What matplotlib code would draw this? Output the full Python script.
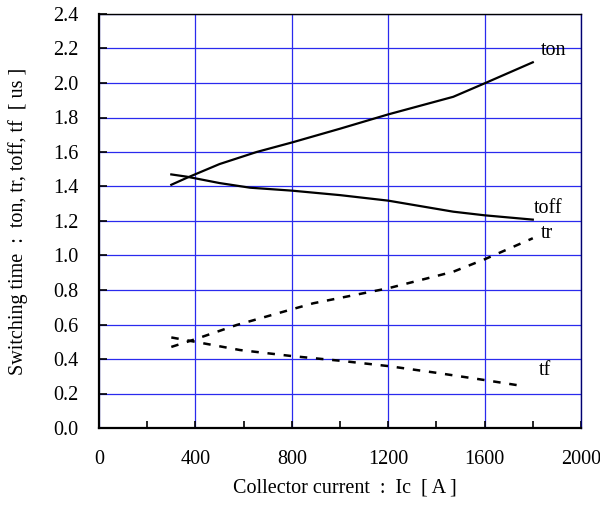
import numpy as np
import matplotlib
matplotlib.use("Agg")
import matplotlib.pyplot as plt
from matplotlib.ticker import MultipleLocator

plt.rcParams['font.family'] = ['Liberation Serif', 'DejaVu Serif']

# Switching time vs collector current
ton_x = [300, 364, 500, 654, 800, 1000, 1200, 1470, 1600, 1800]
ton_y = [1.41, 1.45, 1.53, 1.60, 1.655, 1.735, 1.818, 1.92, 1.998, 2.12]

toff_x = [300, 364, 500, 627, 800, 1000, 1200, 1470, 1600, 1800]
toff_y = [1.47, 1.457, 1.42, 1.393, 1.376, 1.35, 1.318, 1.254, 1.233, 1.208]

tr_x = [300, 398, 571, 800, 889, 1200, 1470, 1600, 1800]
tr_y = [0.47, 0.514, 0.597, 0.688, 0.723, 0.81, 0.906, 0.978, 1.10]

tf_x = [300, 398, 585, 800, 1000, 1200, 1400, 1600, 1760]
tf_y = [0.525, 0.50, 0.452, 0.417, 0.39, 0.359, 0.32, 0.278, 0.243]

labels = ['ton', 'toff', 'tr', 'tf']
label_pos = [(1834, 2.19), (1805, 1.27), (1834, 1.125), (1826, 0.336)]

fs = 14.5

fig = plt.figure(figsize=(6.0, 5.05), dpi=100)
ax = fig.add_axes([99 / 600, 1 - 428 / 505, 482 / 600, 414 / 505])

ax.set_xlim(0, 2000)
ax.set_ylim(0, 2.4)
ax.xaxis.set_major_locator(MultipleLocator(400))
ax.xaxis.set_minor_locator(MultipleLocator(200))
ax.yaxis.set_major_locator(MultipleLocator(0.2))
ax.yaxis.set_major_formatter(plt.FuncFormatter(lambda v, p: f'{v:.1f}'))

ax.set_axisbelow(True)
ax.grid(which='major', color='#2a2aee', lw=0.9)

ax.plot(ton_x, ton_y, color='black', lw=1.6, zorder=3)
ax.plot(toff_x, toff_y, color='black', lw=1.6, zorder=3)
ax.plot(tr_x, tr_y, color='black', lw=1.8, dashes=(3, 3.5), zorder=3)
ax.plot(tf_x, tf_y, color='black', lw=1.8, dashes=(3, 3.5), zorder=3)

for lab, (lx, ly) in zip(labels, label_pos):
    ax.text(lx, ly, lab, fontsize=fs, ha='left', va='center')

ax.tick_params(axis='both', which='both', direction='in', labelsize=fs,
               color='black', width=1.2)
ax.tick_params(axis='x', which='major', length=5, pad=16)
ax.tick_params(axis='x', which='minor', length=5)
ax.tick_params(axis='y', which='major', length=6, pad=15)

for side in ['left', 'bottom']:
    ax.spines[side].set_linewidth(1.6)
ax.spines['top'].set_linewidth(1.0)
ax.spines['right'].set_linewidth(1.0)
ax.spines['right'].set_color('#000070')

ax.set_xlabel('Collector current  :  Ic  [ A ]', fontsize=fs)
ax.set_ylabel('Switching time  :  ton, tr, toff, tf  [ us ]', fontsize=fs, labelpad=18)
ax.xaxis.set_label_coords(0.5 + 5 / 482, -51 / 414)

fig.savefig('out.png', dpi=100)
